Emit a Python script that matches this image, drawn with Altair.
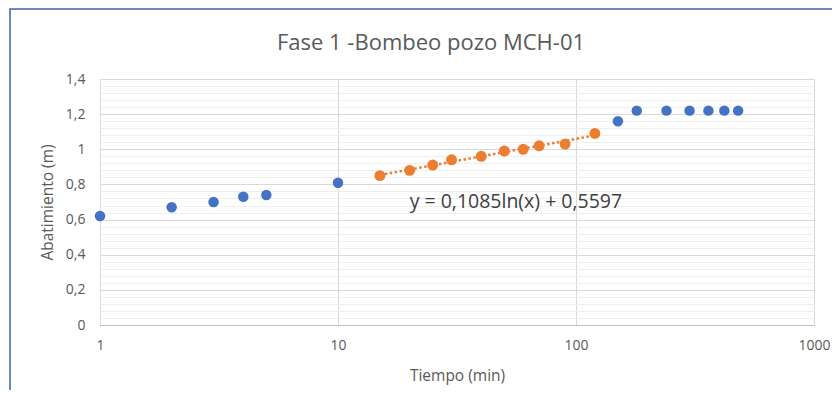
import altair as alt
import pandas as pd

# ---- data ----
blue_t = [1, 2, 3, 4, 5, 10, 150, 180, 240, 300, 360, 420, 480]
blue_s = [0.62, 0.67, 0.70, 0.73, 0.74, 0.81, 1.16, 1.22, 1.22, 1.22, 1.22, 1.22, 1.22]
orange_t = [15, 20, 25, 30, 40, 50, 60, 70, 90, 120]
orange_s = [0.85, 0.88, 0.91, 0.94, 0.96, 0.99, 1.00, 1.02, 1.03, 1.09]

x_ticks = [1, 10, 100, 1000]
y_ticks = [0, 0.2, 0.4, 0.6, 0.8, 1.0, 1.2, 1.4]
y_minor = [round(i * 0.04, 2) for i in range(1, 35) if i % 5]

title_text = ["Fase 1 -Bombeo pozo MCH-01"]
eq_text = ["y = 0,1085ln(x) + 0,5597"]
eq_pos_t = [20]
eq_pos_s = [0.666]

FONT = "Open Sans"
GREY = "#595959"
BLUE = "#4472C4"
ORANGE = "#ED7D31"

blue = pd.DataFrame({"t": blue_t, "s": blue_s})
orange = pd.DataFrame({"t": orange_t, "s": orange_s})
eq = pd.DataFrame({"t": eq_pos_t, "s": eq_pos_s, "label": eq_text})
ttl = pd.DataFrame({"label": title_text})

W, H = 714, 246
xs = alt.Scale(type="log", domain=[1, 1000], nice=False)
ys = alt.Scale(domain=[0, 1.4], nice=False)

minor = alt.Chart(blue).mark_circle(opacity=0).encode(
    x=alt.X("t:Q", scale=xs, axis=None),
    y=alt.Y("s:Q", scale=ys, axis=alt.Axis(values=y_minor, grid=True, gridColor="#EEEEEE",
                                           gridWidth=1, labels=False, ticks=False, domain=False,
                                           title=None, orient="left")),
)

trend = alt.Chart(orange).transform_regression("t", "s", method="log").mark_line(
    color=ORANGE, strokeWidth=2.5, strokeDash=[2.5, 2.5]
).encode(
    x=alt.X("t:Q", scale=xs, axis=None),
    y=alt.Y("s:Q", scale=ys, axis=None),
)

orange_pts = alt.Chart(orange).mark_circle(size=120, color=ORANGE, opacity=1).encode(
    x=alt.X("t:Q", scale=xs, axis=None),
    y=alt.Y("s:Q", scale=ys, axis=None),
)

blue_pts = alt.Chart(blue).mark_circle(size=110, color=BLUE, opacity=1).encode(
    x=alt.X("t:Q", scale=xs, axis=alt.Axis(
        values=x_ticks, format="d", grid=True, gridColor="#D9D9D9", domainColor="#BFBFBF",
        ticks=False, labelPadding=13, labelFont=FONT, labelFontSize=14, labelColor=GREY,
        title="Tiempo (min)", titleFont=FONT, titleFontSize=15.5, titleFontWeight="normal",
        titleColor=GREY, titleX=W / 2, titleY=50, titleBaseline="middle", titleAlign="center",
        labelFlush=False)),
    y=alt.Y("s:Q", scale=ys, axis=alt.Axis(
        values=y_ticks, labelExpr="replace(format(datum.value, '.1~f'), '.', ',')",
        grid=True, gridColor="#D9D9D9", domain=False, ticks=False, labelPadding=15,
        labelFont=FONT, labelFontSize=14, labelColor=GREY,
        title="Abatimiento (m)", titleFont=FONT, titleFontSize=15.5, titleFontWeight="normal",
        titleColor=GREY, titleX=-53, titleY=H / 2, titleBaseline="middle", titleAlign="center",
        titleAngle=270, orient="left")),
)

eq_txt = alt.Chart(eq).mark_text(align="left", baseline="alphabetic", font=FONT, fontSize=19.5,
                                 color="#404040").encode(
    x=alt.X("t:Q", scale=xs, axis=None),
    y=alt.Y("s:Q", scale=ys, axis=None),
    text="label:N",
)

title = alt.Chart(ttl).mark_text(align="center", baseline="alphabetic", font=FONT, fontSize=22,
                                 color=GREY).encode(
    x=alt.value(331), y=alt.value(-29), text="label:N",
)

border = alt.Chart(ttl).mark_rect(fillOpacity=0, stroke="#3B63AD", strokeWidth=1.5).encode(
    x=alt.value(-90), x2=alt.value(780), y=alt.value(-70), y2=alt.value(360),
)

chart = alt.layer(minor, trend, orange_pts, blue_pts, eq_txt, title, border).resolve_axis(
    x="independent", y="independent"
).properties(
    width=W, height=H,
    autosize=alt.AutoSizeParams(type="none"),
    padding={"left": 92, "top": 71, "right": 18, "bottom": 65},
).configure_view(stroke=None).configure(background="white")

chart.save("out.html", embed_options={"renderer": "svg", "actions": False})
